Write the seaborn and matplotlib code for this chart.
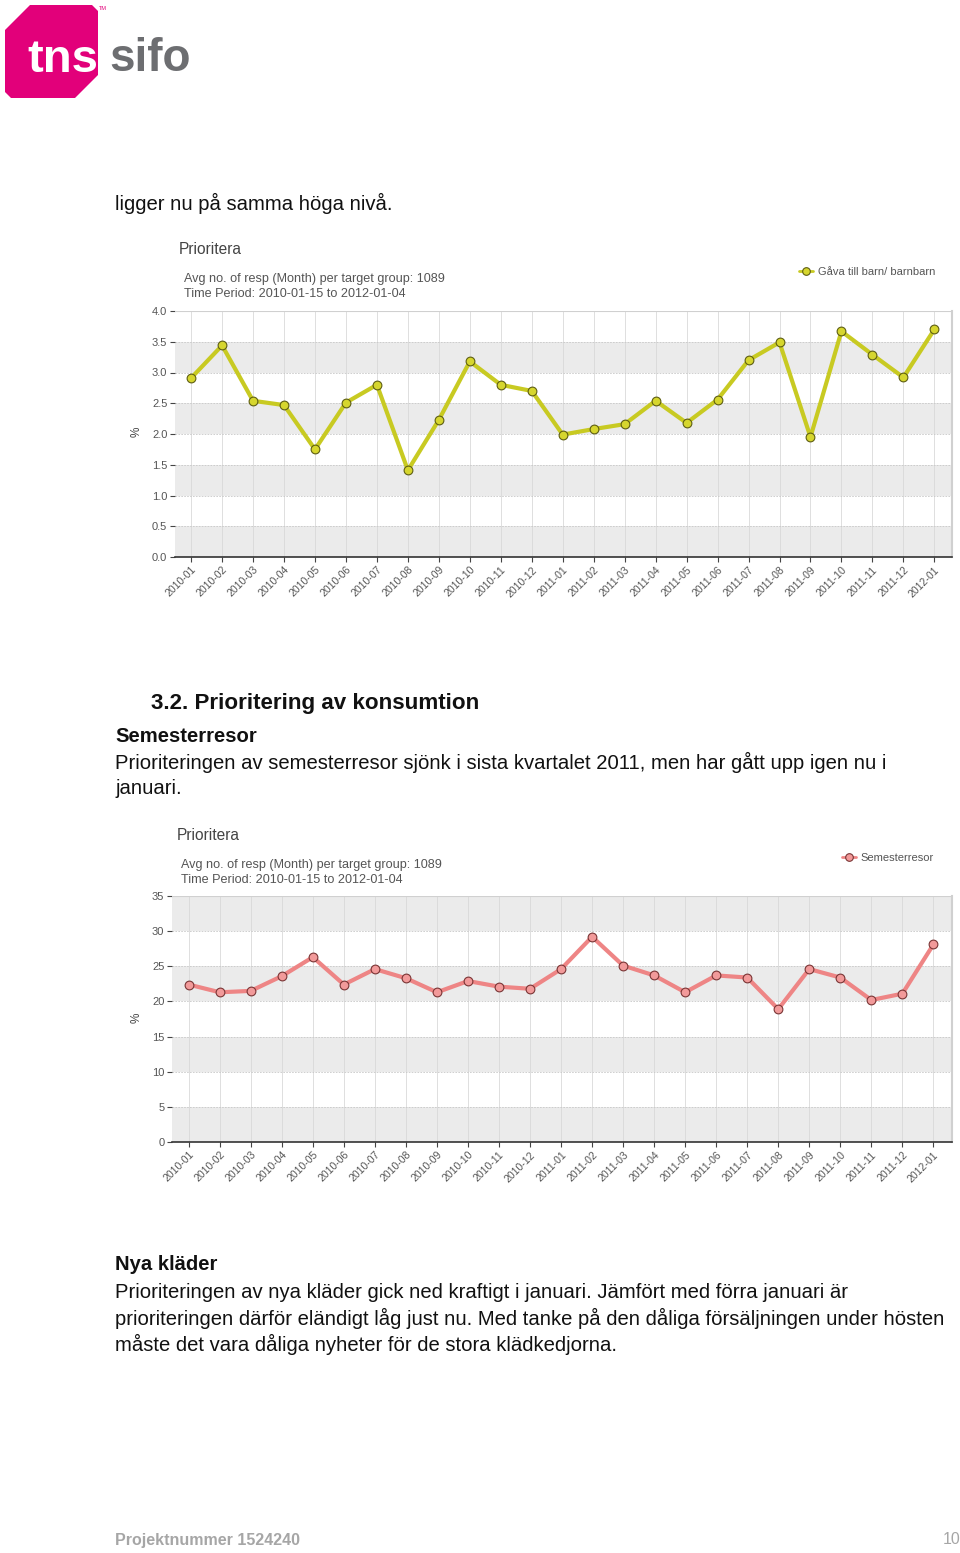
import numpy as np
import pandas as pd
import matplotlib
matplotlib.use("Agg")
import matplotlib.pyplot as plt
import seaborn as sns
from matplotlib.patches import Polygon
from matplotlib.lines import Line2D

months = ["2010-01", "2010-02", "2010-03", "2010-04", "2010-05", "2010-06", "2010-07",
          "2010-08", "2010-09", "2010-10", "2010-11", "2010-12", "2011-01", "2011-02",
          "2011-03", "2011-04", "2011-05", "2011-06", "2011-07", "2011-08", "2011-09",
          "2011-10", "2011-11", "2011-12", "2012-01"]
gava_values = [2.91, 3.44, 2.54, 2.47, 1.75, 2.51, 2.80, 1.41, 2.23, 3.18, 2.80, 2.70,
               1.99, 2.08, 2.16, 2.54, 2.18, 2.56, 3.20, 3.49, 1.95, 3.67, 3.29, 2.92, 3.70]
semester_values = [22.4, 21.3, 21.5, 23.6, 26.3, 22.4, 24.6, 23.3, 21.3, 22.9, 22.1, 21.8,
                   24.6, 29.2, 25.1, 23.7, 21.3, 23.7, 23.4, 18.9, 24.6, 23.4, 20.2, 21.1, 28.1]
gava_ticks = [0.0, 0.5, 1.0, 1.5, 2.0, 2.5, 3.0, 3.5, 4.0]
semester_ticks = [0, 5, 10, 15, 20, 25, 30, 35]

sns.set_theme(style="white")
plt.rcParams["font.family"] = ["Liberation Sans", "DejaVu Sans"]

W, H = 960, 1553
fig = plt.figure(figsize=(W / 100, H / 100), dpi=100)
bg = fig.add_axes([0, 0, 1, 1])
bg.set_xlim(0, W)
bg.set_ylim(H, 0)
bg.axis("off")

# ---- logo ----
logo = Polygon([(5, 30), (30, 5), (92, 5), (98, 11), (98, 75), (75, 98), (11, 98), (5, 92)],
               closed=True, facecolor="#E2007A", edgecolor="none")
bg.add_patch(logo)
bg.text(27, 60, "tns", color="white", fontsize=34, fontweight="bold", va="center", ha="left")
bg.text(109, 59, "sifo", color="#6D6E71", fontsize=33, fontweight="bold", va="center", ha="left")
bg.text(99, 8, "TM", color="#E2007A", fontsize=4, va="center", ha="left")

# ---- body text ----
BS = 14.6
body = dict(fontsize=BS, color="#111111", va="center", ha="left")
bold = dict(fontsize=BS, fontweight="bold", color="#111111", va="center", ha="left")
bg.text(115, 203, "ligger nu på samma höga nivå.", **body)
bg.text(151, 703, "3.2. Prioritering av konsumtion", fontsize=16.1, fontweight="bold",
        color="#111111", va="center", ha="left")
bg.text(115, 736, "Semesterresor", **bold)
bg.text(115, 762, "Prioriteringen av semesterresor sjönk i sista kvartalet 2011, men har gått upp igen nu i", **body)
bg.text(115, 789, "januari.", **body)
bg.text(115, 1265, "Nya kläder", **bold)
bg.text(115, 1292, "Prioriteringen av nya kläder gick ned kraftigt i januari. Jämfört med förra januari är", **body)
bg.text(115, 1318, "prioriteringen därför eländigt låg just nu. Med tanke på den dåliga försäljningen under hösten", **body)
bg.text(115, 1344, "måste det vara dåliga nyheter för de stora klädkedjorna.", **body)
bg.text(115, 1540, "Projektnummer 1524240", fontsize=11.5, fontweight="bold", color="#A6A6A6",
        va="center", ha="left")
bg.text(960, 1540, "10", fontsize=11.5, color="#A6A6A6", va="center", ha="right")


def draw_chart(rect, values, ticks, ymax, xlim, grey_first, line_c, face_c, edge_c,
               title_xy, sub_xy, label, legend_xy, pct_xy, ticklabels):
    ax = fig.add_axes(rect)
    x = np.arange(len(months))
    ax.set_xlim(*xlim)
    ax.set_ylim(0, ymax)
    # bands
    for i in range(len(ticks) - 1):
        if (i % 2 == 0) == grey_first:
            ax.axhspan(ticks[i], ticks[i + 1], color="#EBEBEB", zorder=0, lw=0)
    for t in ticks[1:-1]:
        ax.axhline(t, color="#C8C8C8", lw=0.6, ls=(0, (2, 1.5)), zorder=0.5)
    for xi in x:
        ax.axvline(xi, color="#D9D9D9", lw=0.6, zorder=0.4)
    ax.axhline(ymax, color="#D0D0D0", lw=1.5, zorder=0.6)
    df = pd.DataFrame({"x": x, "y": values})
    sns.lineplot(data=df, x="x", y="y", ax=ax, color=line_c, lw=3.0, marker="o",
                 markersize=6.3, markerfacecolor=face_c, markeredgecolor=edge_c,
                 markeredgewidth=0.8, zorder=3)
    ax.set_xticks(x)
    ax.set_xticklabels(months, rotation=45, ha="right", rotation_mode="anchor",
                       fontsize=7.6, color="#555555")
    ax.set_yticks(ticks)
    ax.set_yticklabels(ticklabels, fontsize=8, color="#555555")
    ax.tick_params(axis="both", which="both", direction="out", length=3.5, width=0.8,
                   color="#444444", bottom=True, left=True, pad=2)
    ax.set_xlabel("")
    ax.set_ylabel("")
    ax.spines["left"].set_visible(False)
    ax.spines["top"].set_visible(False)
    ax.spines["right"].set_color("#D0D0D0")
    ax.spines["right"].set_linewidth(1.5)
    ax.spines["bottom"].set_color("#333333")
    ax.spines["bottom"].set_linewidth(1.2)
    bg.text(title_xy[0], title_xy[1], "Prioritera", fontsize=11.2, color="#444444",
            va="center", ha="left")
    bg.text(sub_xy[0], sub_xy[1], "Avg no. of resp (Month) per target group: 1089",
            fontsize=9.1, color="#555555", va="center", ha="left")
    bg.text(sub_xy[0], sub_xy[1] + 15, "Time Period: 2010-01-15 to 2012-01-04",
            fontsize=9.1, color="#555555", va="center", ha="left")
    bg.text(pct_xy[0], pct_xy[1], "%", fontsize=8.5, color="#444444", rotation=90,
            va="center", ha="center")
    handle = Line2D([], [], color=line_c, lw=2, marker="o", markersize=5.5,
                    markerfacecolor=face_c, markeredgecolor=edge_c, markeredgewidth=0.8)
    fig.legend(handles=[handle], labels=[label], loc="center right",
               bbox_to_anchor=(legend_xy[0] / W, 1 - legend_xy[1] / H), frameon=False,
               fontsize=8, handlelength=1.3, handletextpad=0.4, labelcolor="#555555",
               borderaxespad=0, borderpad=0)
    return ax


draw_chart([175 / W, 1 - 557 / H, (952 - 175) / W, (557 - 311) / H], gava_values,
           gava_ticks, 4.0, (-0.52, 24.57), True, "#C8CA22", "#D6D62E", "#5E5E12",
           (179, 249), (184, 279), "Gåva till barn/ barnbarn", (935, 272), (137, 432),
           ["%.1f" % t for t in gava_ticks])

draw_chart([172 / W, 1 - 1142 / H, (952 - 172) / W, (1142 - 896) / H], semester_values,
           semester_ticks, 35, (-0.54, 24.6), True, "#EE8585", "#F29A9A", "#7A3535",
           (177, 835), (181, 865), "Semesterresor", (934, 858), (137, 1018),
           [str(t) for t in semester_ticks])

fig.savefig("out.png", dpi=100, facecolor="white")
